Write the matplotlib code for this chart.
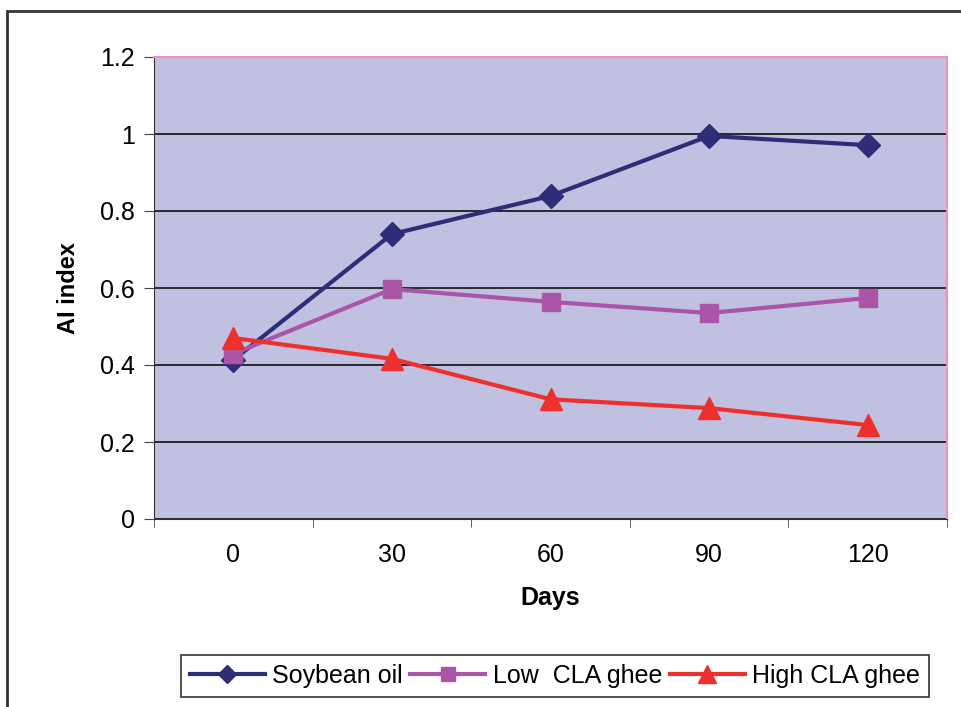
import matplotlib
matplotlib.use("Agg")
from matplotlib import pyplot as plt
from matplotlib.patches import Rectangle

days = ["0", "30", "60", "90", "120"]
soybean_oil = [0.413, 0.740, 0.839, 0.995, 0.971]
low_cla_ghee = [0.429, 0.597, 0.564, 0.535, 0.574]
high_cla_ghee = [0.470, 0.416, 0.311, 0.288, 0.244]

plt.rcParams['font.family'] = ['Liberation Sans', 'DejaVu Sans']

fig = plt.figure(figsize=(9.61, 7.07), dpi=100)
W, H = 961, 707
ax = fig.add_axes([154 / W, 1 - 519 / H, (947 - 154) / W, (519 - 57) / H])
ax.set_facecolor('#C0C0E0')

x = range(len(days))
ax.plot(x, soybean_oil, color='#2E2E78', lw=3, marker='D', ms=12, label='Soybean oil', zorder=3)
ax.plot(x, low_cla_ghee, color='#AA55A8', lw=3, marker='s', ms=13, label='Low  CLA ghee', zorder=4)
ax.plot(x, high_cla_ghee, color='#EE302C', lw=3, marker='^', ms=16, label='High CLA ghee', zorder=5)

ax.set_xlim(-0.5, 4.5)
ax.set_ylim(0, 1.2)
ax.set_yticks([0, 0.2, 0.4, 0.6, 0.8, 1.0, 1.2])
ax.set_yticklabels(['0', '0.2', '0.4', '0.6', '0.8', '1', '1.2'])
ax.set_xticks(list(x))
ax.set_xticklabels(days)
ax.set_xticks([i - 0.5 for i in range(len(days) + 1)], minor=True)
ax.tick_params(axis='x', which='major', length=0, pad=17, labelsize=18)
ax.tick_params(axis='x', which='minor', length=6, color='#444444')
ax.tick_params(axis='y', length=7, color='#444444', labelsize=18, pad=7)
ax.grid(axis='y', color='black', lw=1.1)
ax.set_axisbelow(True)

for side in ['top', 'right']:
    ax.spines[side].set_color('#F090C0')
    ax.spines[side].set_linewidth(1.5)
ax.spines['left'].set_color('#333333')
ax.spines['bottom'].set_color('#333333')

ax.set_ylabel('AI index', fontsize=17, fontweight='bold', labelpad=14)
ax.set_xlabel('Days', fontsize=18, fontweight='bold', labelpad=14)

leg = ax.legend(loc='center', bbox_to_anchor=((555 - 154) / (947 - 154), -(676 - 519) / (519 - 57)),
                ncol=3, fontsize=18, frameon=True, fancybox=False, edgecolor='black',
                handlelength=3.0, handletextpad=0.3, columnspacing=0.3, borderpad=0.35,
                borderaxespad=0, markerscale=0.8)
leg.get_frame().set_linewidth(1.2)

# outer chart frame
fig.patches.append(Rectangle((7 / W, -0.05), 1.05, 1 - 11 / H + 0.05, transform=fig.transFigure,
                             fill=False, edgecolor='#333333', lw=2))

fig.savefig('out.png', dpi=100)
